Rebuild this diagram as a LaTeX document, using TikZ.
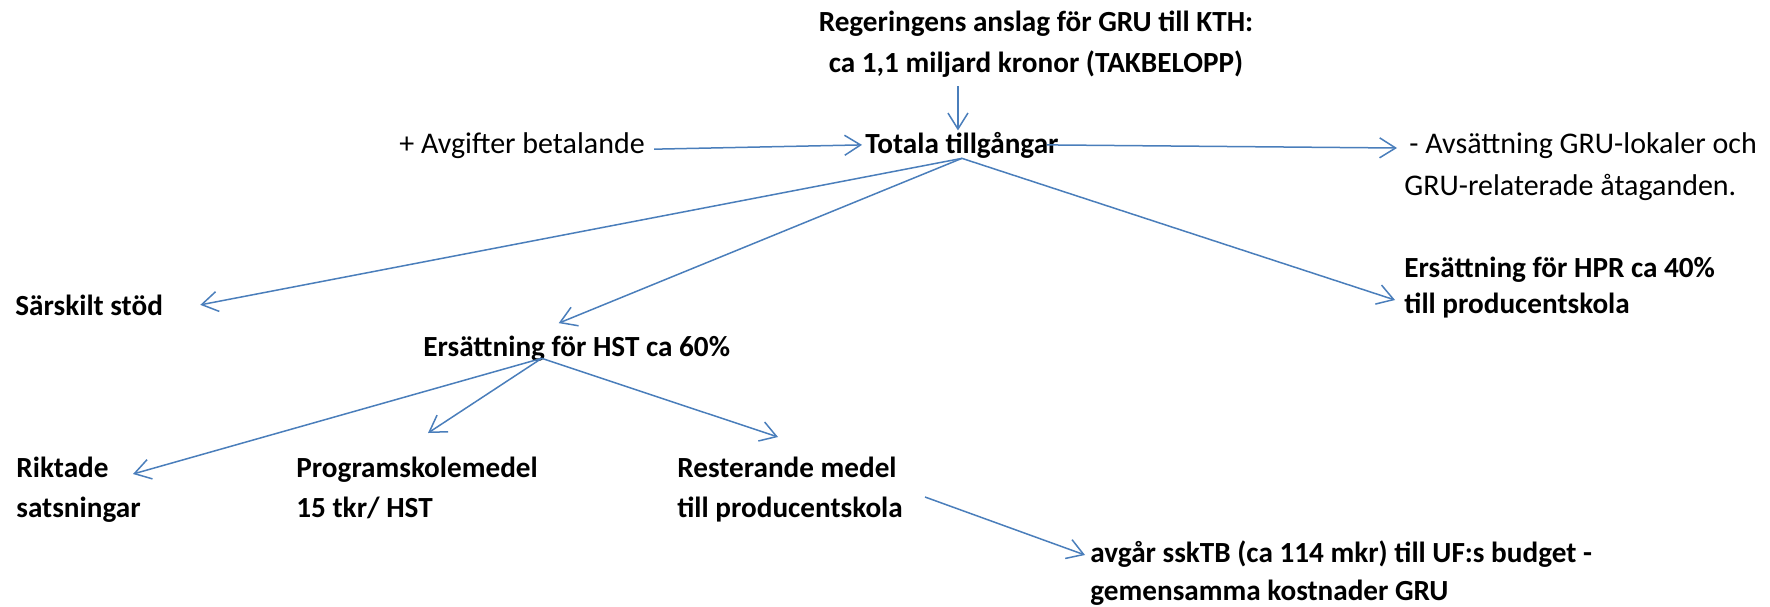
\documentclass[tikz,border=0pt]{standalone}
\usepackage{fontspec}
\setmainfont{Carlito}
\usetikzlibrary{arrows.meta,calc}
\definecolor{pilbla}{HTML}{4A7EBB}
\tikzset{
  txt/.style={inner sep=0pt,anchor=base west,align=left,font=\fontsize{14.6}{20}\selectfont\bfseries},
  ltxt/.style={txt,font=\fontsize{15}{21}\selectfont},
  pil/.style={draw=pilbla,line width=0.75pt,-{Straight Barb[length=8pt,width=10pt]}}
}
\begin{document}
\begin{tikzpicture}[x=0.5pt,y=-0.5pt]
\useasboundingbox (0,0) rectangle (1770,606);
% texter (base = sista radens baslinje)
\node[txt,anchor=base,align=center,font=\fontsize{14.6}{20.5}\selectfont\bfseries] (anslag) at (1036,72) {Regeringens anslag för GRU till KTH:\\ca 1,1 miljard kronor (TAKBELOPP)};
\node[txt] (tot) at (865,153) {Totala tillgångar};
\node[ltxt] (avg) at (399,153) {+ Avgifter betalande};
\node[ltxt] (avs) at (1404,195) {\,- Avsättning GRU-lokaler och\\GRU-relaterade åtaganden.};
\node[txt] (sar) at (15,315) {Särskilt stöd};
\node[txt] (hst) at (423,356) {Ersättning för HST ca 60\%};
\node[txt,font=\fontsize{14.6}{18}\selectfont\bfseries] (hpr) at (1404,313) {Ersättning för HPR ca 40\%\\till producentskola};
\node[txt] (rik) at (16,517) {Riktade\\satsningar};
\node[txt] (prog) at (296,517) {Programskolemedel\\15 tkr/ HST};
\node[txt] (rest) at (677,517) {Resterande medel\\till producentskola};
\node[txt,font=\fontsize{14.6}{19}\selectfont\bfseries] (avgar) at (1090,600) {avgår sskTB (ca 114 mkr) till UF:s budget -\\gemensamma kostnader GRU};
\coordinate (hstut) at ($(hst.south)+(-35,-3)$);
% pilar
\draw[pil] ($(anslag.south -| tot.north)+(-4,9)$) -- ($(tot.north)+(-4,-1)$);
\draw[pil] ($(avg.east)+(9,4)$) -- ($(tot.west)+(-3,0)$);
\draw[pil] ($(tot.east)+(-12,0)$) -- ($(avs.base west)+(-7,-47)$);
\draw[pil] (tot.south) -- ($(sar.east)+(37,0)$);
\draw[pil] (tot.south) -- ($(hst.north)+(-18,-12)$);
\draw[pil] (tot.south) -- ($(hpr.base west)+(-9,-13)$);
\draw[pil] (hstut) -- ($(rik.base west)+(117,-43)$);
\draw[pil] (hstut) -- ($(prog.base west)+(132,-84)$);
\draw[pil] (hstut) -- ($(rest.base west)+(101,-80)$);
\draw[pil] ($(rest.base west)+(248,-20)$) -- ($(avgar.base west)+(-5,-45)$);
\end{tikzpicture}
\end{document}
